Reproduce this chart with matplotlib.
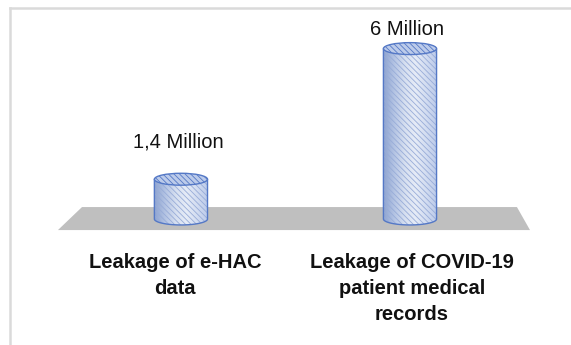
import numpy as np
import matplotlib.pyplot as plt
from matplotlib.patches import Polygon, Ellipse
from matplotlib.colors import LinearSegmentedColormap
from matplotlib.lines import Line2D

# data (millions of records)
categories = ["Leakage of e-HAC\ndata", "Leakage of COVID-19\npatient medical\nrecords"]
values = [1.4, 6.0]
value_labels = ["1,4 Million", "6 Million"]

plt.rcParams["font.family"] = ["Liberation Sans", "DejaVu Sans"]
plt.rcParams["hatch.linewidth"] = 0.6

fig = plt.figure(figsize=(5.71, 3.45), dpi=100)
ax = fig.add_axes([0, 0, 1, 1])

x = np.arange(len(values))
half_w = 0.116   # cylinder half width (x units)
ry = 0.21        # ellipse half height (y units)

edge_blue = "#5478c6"
shade = LinearSegmentedColormap.from_list(
    "cyl", ["#8da3cf", "#b3c3e3", "#d6dff0", "#e6ecf7", "#d3ddf1", "#bccbea"])

# grey floor
floor = Polygon([(x[0] - 0.537, -0.39), (x[-1] + 0.524, -0.39),
                 (x[-1] + 0.467, 0.42), (x[0] - 0.432, 0.42)],
                closed=True, fc="#bfbfbf", ec="none", zorder=1)
ax.add_patch(floor)

t = np.linspace(np.pi, 2 * np.pi, 60)
for xi, v in zip(x, values):
    # body outline: left side, lower half of base ellipse, right side
    arc = np.column_stack([xi + half_w * np.cos(t), ry * np.sin(t)])
    verts = np.vstack([[xi - half_w, v], arc, [xi + half_w, v], [xi - half_w, v]])

    clip = Polygon(verts, closed=True, fc="none", ec="none", transform=ax.transData)
    ax.add_patch(clip)
    grad = np.linspace(0, 1, 200).reshape(1, -1)
    im = ax.imshow(grad, extent=[xi - half_w, xi + half_w, -ry, v],
                   aspect="auto", cmap=shade, zorder=2)
    im.set_clip_path(clip)

    ax.add_patch(Polygon(verts, closed=True, fc="none", ec="#98acd8",
                         lw=0, hatch="\\\\\\\\\\\\", zorder=3))
    ax.add_patch(Polygon(verts, closed=True, fc="none", ec=edge_blue,
                         lw=1.0, zorder=4))
    ax.add_patch(Ellipse((xi, v), 2 * half_w, 2 * ry, fc="#bccbea", ec=edge_blue,
                         lw=1.0, hatch="\\\\\\\\\\\\", zorder=5))

# value labels
for xi, v, lbl, off in zip(x, values, value_labels, [26, 8]):
    ax.annotate(lbl, (xi, v + ry), xytext=(-3, off), textcoords="offset pixels",
                ha="center", va="baseline", fontsize=14.5, color="#111111")

# category labels
for xi, cat, dx in zip(x, categories, [-6, 2]):
    ax.annotate(cat, (xi, -0.39), xytext=(dx, -23), textcoords="offset pixels",
                ha="center", va="top", fontsize=14.5, fontweight="bold",
                linespacing=1.45, color="#111111")

ax.set_xlim(-0.790, 1.703)
ax.set_ylim(-4.437, 7.711)
ax.axis("off")

# chart area border (top and left visible)
fig.add_artist(Line2D([10 / 571, 1], [1 - 8 / 345] * 2, transform=fig.transFigure,
                      color="#dadada", lw=1.8))
fig.add_artist(Line2D([10 / 571] * 2, [0, 1 - 8 / 345], transform=fig.transFigure,
                      color="#dadada", lw=1.8))

fig.savefig("out.png", dpi=100)
